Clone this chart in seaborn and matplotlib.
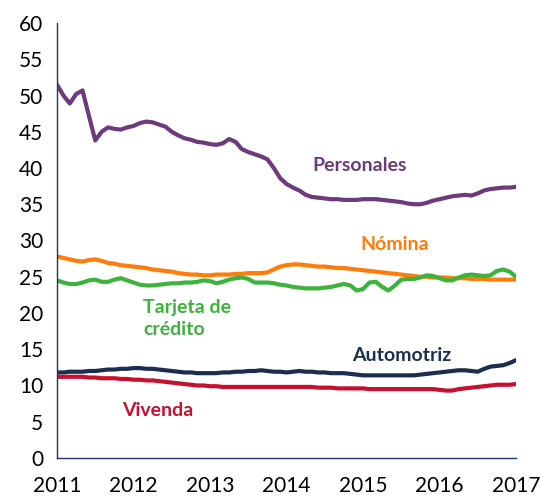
import numpy as np
import pandas as pd
import matplotlib
matplotlib.use("Agg")
import matplotlib.pyplot as plt
import seaborn as sns

# ---------------------------------------------------------------------------
# Data (monthly, Jan 2011 - Jan 2017, % of consumer credit)
# ---------------------------------------------------------------------------

months = pd.date_range("2011-01-01", "2017-01-01", freq="MS")

personales = [
    51.5, 50.0, 48.9, 50.2, 50.7, 47.2, 43.8, 45.0, 45.6, 45.4, 45.3, 45.6,
    45.8, 46.2, 46.4, 46.3, 46.0, 45.7, 45.0, 44.5, 44.1, 43.9, 43.6, 43.5,
    43.3, 43.2, 43.4, 44.0, 43.6, 42.6, 42.2, 41.9, 41.6, 41.2, 40.0, 38.6,
    37.8, 37.3, 36.9, 36.3, 36.0, 35.9, 35.8, 35.7, 35.7, 35.6, 35.6, 35.6,
    35.7, 35.7, 35.7, 35.6, 35.5, 35.4, 35.3, 35.1, 35.0, 35.0, 35.2, 35.5,
    35.7, 35.9, 36.1, 36.2, 36.3, 36.2, 36.5, 36.9, 37.1, 37.2, 37.3, 37.3,
    37.4,
]
nomina = [
    27.8, 27.6, 27.4, 27.2, 27.1, 27.3, 27.4, 27.2, 26.9, 26.8, 26.6, 26.5,
    26.4, 26.3, 26.2, 26.0, 25.9, 25.8, 25.7, 25.5, 25.4, 25.3, 25.3, 25.2,
    25.2, 25.3, 25.3, 25.3, 25.4, 25.4, 25.5, 25.5, 25.5, 25.6, 26.0, 26.4,
    26.6, 26.7, 26.7, 26.6, 26.5, 26.4, 26.4, 26.3, 26.2, 26.2, 26.1, 26.0,
    25.9, 25.8, 25.7, 25.6, 25.5, 25.4, 25.3, 25.2, 25.1, 25.0, 25.0, 24.9,
    24.9, 24.9, 24.8, 24.8, 24.8, 24.7, 24.7, 24.7, 24.6, 24.6, 24.6, 24.6,
    24.6,
]
tarjeta = [
    24.5, 24.2, 24.0, 24.0, 24.2, 24.5, 24.6, 24.3, 24.3, 24.6, 24.8, 24.5,
    24.2, 23.9, 23.8, 23.8, 23.9, 24.0, 24.1, 24.1, 24.2, 24.2, 24.3, 24.5,
    24.4, 24.1, 24.3, 24.6, 24.8, 24.9, 24.7, 24.2, 24.2, 24.2, 24.1, 23.9,
    23.8, 23.6, 23.5, 23.4, 23.4, 23.4, 23.5, 23.6, 23.8, 24.0, 23.8, 23.1,
    23.3, 24.2, 24.3, 23.6, 23.1, 23.8, 24.6, 24.7, 24.7, 24.9, 25.2, 25.1,
    24.8, 24.5, 24.5, 24.9, 25.2, 25.3, 25.2, 25.1, 25.2, 25.8, 26.0, 25.7,
    25.0,
]
automotriz = [
    11.8, 11.8, 11.9, 11.9, 11.9, 12.0, 12.0, 12.1, 12.2, 12.2, 12.3, 12.3,
    12.4, 12.4, 12.3, 12.3, 12.2, 12.1, 12.0, 11.9, 11.8, 11.8, 11.7, 11.7,
    11.7, 11.7, 11.8, 11.8, 11.9, 11.9, 12.0, 12.0, 12.1, 12.0, 11.9, 11.9,
    11.8, 11.9, 12.0, 11.9, 11.9, 11.8, 11.8, 11.7, 11.7, 11.7, 11.6, 11.5,
    11.4, 11.4, 11.4, 11.4, 11.4, 11.4, 11.4, 11.4, 11.4, 11.5, 11.6, 11.7,
    11.8, 11.9, 12.0, 12.1, 12.1, 12.0, 11.9, 12.3, 12.6, 12.7, 12.8, 13.1,
    13.5,
]
vivienda = [
    11.2, 11.2, 11.2, 11.2, 11.2, 11.1, 11.1, 11.0, 11.0, 11.0, 10.9, 10.9,
    10.8, 10.8, 10.7, 10.7, 10.6, 10.5, 10.4, 10.3, 10.2, 10.1, 10.0, 10.0,
    9.9, 9.9, 9.8, 9.8, 9.8, 9.8, 9.8, 9.8, 9.8, 9.8, 9.8, 9.8,
    9.8, 9.8, 9.8, 9.8, 9.8, 9.7, 9.7, 9.7, 9.6, 9.6, 9.6, 9.6,
    9.6, 9.5, 9.5, 9.5, 9.5, 9.5, 9.5, 9.5, 9.5, 9.5, 9.5, 9.5,
    9.4, 9.3, 9.3, 9.5, 9.6, 9.7, 9.8, 9.9, 10.0, 10.1, 10.1, 10.1,
    10.2,
]

series = {
    "Personales": personales,
    "Nómina": nomina,
    "Tarjeta de crédito": tarjeta,
    "Automotriz": automotriz,
    "Vivenda": vivienda,
}
colors = {
    "Personales": "#6d3a7d",
    "Nómina": "#ff7b0a",
    "Tarjeta de crédito": "#3cb43c",
    "Automotriz": "#1c2e4f",
    "Vivenda": "#c8102e",
}

year_frac = months.year + (months.month - 1) / 12
df = pd.concat(
    [pd.DataFrame({"t": year_frac, "valor": v, "serie": k}) for k, v in series.items()],
    ignore_index=True,
)

# ---------------------------------------------------------------------------
# Plot
# ---------------------------------------------------------------------------

sns.set_style("white")
plt.rcParams["font.family"] = ["Lato", "DejaVu Sans"]

fig = plt.figure(figsize=(5.40, 4.97), dpi=100)
ax = fig.add_axes([0.1056, 0.0785, 0.85, 0.8752])

sns.lineplot(data=df, x="t", y="valor", hue="serie", palette=colors,
             linewidth=3.0, legend=False, ax=ax)

ax.set_xlim(2011, 2017)
ax.set_ylim(0, 60)
ax.set_xticks(range(2011, 2018))
ax.set_yticks(range(0, 61, 5))
ax.set_xlabel("")
ax.set_ylabel("")

axis_col = "#1f3566"
for side in ["top", "right"]:
    ax.spines[side].set_visible(False)
for side in ["left", "bottom"]:
    ax.spines[side].set_color(axis_col)
    ax.spines[side].set_linewidth(1.0)
ax.tick_params(axis="both", which="major", direction="out", length=6,
               width=1.0, color=axis_col, labelsize=15, labelcolor="black")
ax.tick_params(axis="x", pad=7)
ax.tick_params(axis="y", pad=4)

# direct labels
lab = dict(fontsize=14, fontweight="bold")
ax.text(2014.96, 40.4, "Personales", color=colors["Personales"], ha="center", va="center", **lab)
ax.text(2015.42, 29.5, "Nómina", color=colors["Nómina"], ha="center", va="center", **lab)
ax.text(2012.13, 19.2, "Tarjeta de\ncrédito", color=colors["Tarjeta de crédito"],
        ha="left", va="center", linespacing=1.35, **lab)
ax.text(2015.51, 14.2, "Automotriz", color=colors["Automotriz"], ha="center", va="center", **lab)
ax.text(2012.32, 6.6, "Vivenda", color=colors["Vivenda"], ha="center", va="center", **lab)

fig.savefig("out.png", dpi=100)
